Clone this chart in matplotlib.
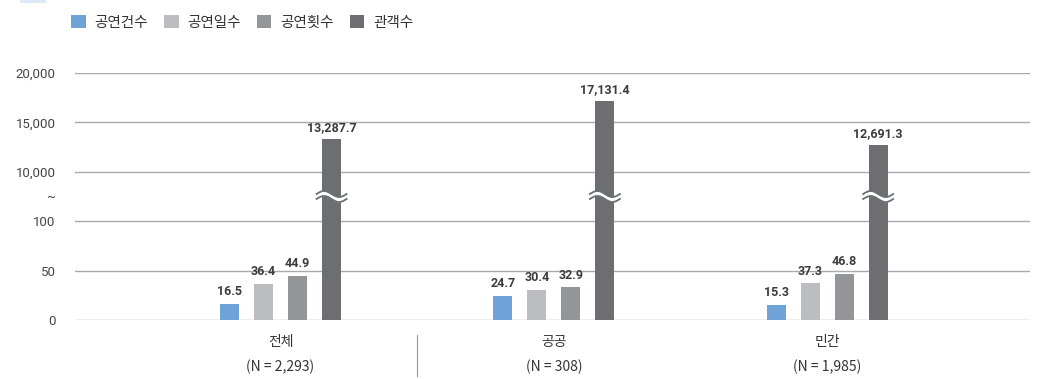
import numpy as np
import matplotlib.pyplot as plt
from matplotlib.patches import Patch, Rectangle
import matplotlib.transforms as mtransforms

plt.rcParams['font.family'] = ['Noto Sans CJK KR', 'DejaVu Sans']

groups = ['전체', '공공', '민간']
group_n = ['(N = 2,293)', '(N = 308)', '(N = 1,985)']
series = ['공연건수', '공연일수', '공연횟수', '관객수']
colors = ['#6fa3d8', '#bcbdc0', '#939598', '#6d6e71']
values = [
    [16.5, 24.7, 15.3],
    [36.4, 30.4, 37.3],
    [44.9, 32.9, 46.8],
    [13287.7, 17131.4, 12691.3],
]
ytick_vals = [0, 50, 100, 5050, 10000, 15000, 20000]
ytick_labels = ['0', '50', '100', '~', '10,000', '15,000', '20,000']

# broken axis: 0-100 and 10,000-20,000 stacked on one scale
brk_v = [0, 100, 10000, 20000]
brk_u = [0, 2, 3, 5]


def fwd(v):
    return np.interp(v, brk_v, brk_u)


def inv(u):
    return np.interp(u, brk_u, brk_v)


W, H = 1037, 379
fig = plt.figure(figsize=(W / 100, H / 100), dpi=100)
ax = fig.add_axes([75 / W, 1 - 320 / H, 955 / W, 247 / H])
ax.set_yscale('function', functions=(fwd, inv))
ax.set_ylim(0, 20000)
ax.set_xlim(-0.752, 2.742)

x = np.arange(len(groups))
step = 34 / 273.3
bw = 19 / 273.3
for i, (name, vals) in enumerate(zip(series, values)):
    xs = x + (i - 1.5) * step
    ax.bar(xs, vals, width=bw, color=colors[i], zorder=3)
    for xi, v in zip(xs, vals):
        ax.annotate(f'{v:,.1f}', (xi, v), xytext=(0, 4), textcoords='offset points',
                    ha='center', va='bottom', fontsize=9, fontweight='bold',
                    color='#3c3c3c', family=['Roboto', 'DejaVu Sans'], zorder=5)

ax.set_yticks(ytick_vals)
ax.set_yticklabels(ytick_labels, family=['Roboto', 'DejaVu Sans'], fontsize=9.5, color='#444444')
ax.tick_params(axis='y', length=0, pad=14)
ax.tick_params(axis='x', length=0, labelbottom=False)
ax.yaxis.grid(True, color='#aaaaaa', linewidth=1.0, zorder=0)
ax.yaxis.get_gridlines()[3].set_visible(False)
for s in ax.spines.values():
    s.set_visible(False)

# category labels below the axis
trans = mtransforms.blended_transform_factory(ax.transData, ax.transAxes)
for xi, g, n in zip(x, groups, group_n):
    ax.text(xi, -0.088, g, transform=trans, ha='center', va='center', fontsize=10, color='#333333')
    ax.text(xi, -0.19, n, transform=trans, ha='center', va='center', fontsize=10, color='#333333')
ax.plot([0.5, 0.5], [-0.06, -0.225], transform=trans, color='#999999', linewidth=0.8, clip_on=False)

# break marks on the audience bars
fig.canvas.draw()
big_x = x + 1.5 * step
for xi in big_x:
    px, py = ax.transData.transform((xi, 5050))
    half = 15
    t = np.linspace(-half, half, 60)
    wave = -3.0 * np.sin(np.pi * t / half)
    x_pix = px + t
    ax.fill_between(x_pix, py + wave - 2.5, py + wave + 2.5, color='white',
                    transform=mtransforms.IdentityTransform(), zorder=4, linewidth=0)
    for off in (-2.5, 2.5):
        ax.plot(x_pix, py + wave + off, color=colors[3], linewidth=1.3,
                transform=mtransforms.IdentityTransform(), zorder=4, clip_on=False)

handles = [Patch(facecolor=c, edgecolor='none') for c in colors]
fig.legend(handles, series, loc='upper left', bbox_to_anchor=(58 / W, 1 - 2 / H), ncol=4,
           frameon=False, fontsize=10.5, handlelength=1.0, handleheight=1.0,
           handletextpad=0.6, columnspacing=1.1, labelcolor='#333333')

fig.patches.append(Rectangle((20 / W, 1 - 3 / H), 26 / W, 3 / H, transform=fig.transFigure,
                             facecolor='#dce9f6', edgecolor='none'))

fig.savefig('out.png', dpi=100)
